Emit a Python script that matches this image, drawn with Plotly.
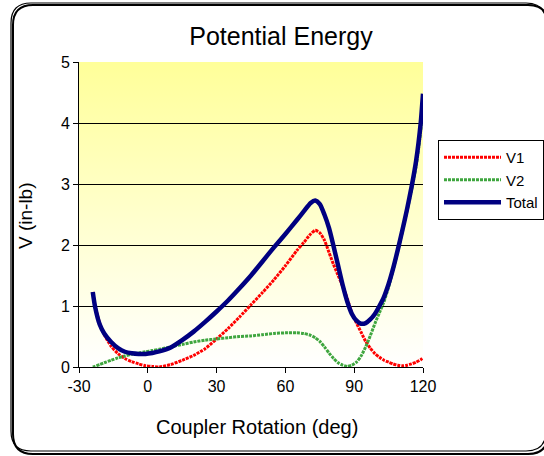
import base64
import plotly.graph_objects as go

# Coupler rotation angle (deg) and potential energy terms (in-lb)
rotation = [-24, -23, -21, -19, -16, -13, -10, -7, -4, -1, 2, 5, 10, 15, 20, 25, 30, 35,
            40, 45, 50, 55, 60, 65, 68, 71, 73, 75, 77, 79, 81, 83, 85, 87, 89, 91, 93,
            95, 97, 99, 101, 103, 105, 107, 109, 111, 113, 115, 117, 119, 120]
v1 = [1.23, 1.00, 0.72, 0.53, 0.34, 0.22, 0.14, 0.09, 0.05, 0.02, 0.01, 0.00, 0.04, 0.11,
      0.19, 0.30, 0.46, 0.63, 0.82, 1.02, 1.22, 1.43, 1.66, 1.91, 2.04, 2.18, 2.24, 2.20,
      2.08, 1.88, 1.68, 1.50, 1.32, 1.12, 0.88, 0.72, 0.57, 0.42, 0.31, 0.22, 0.16, 0.11,
      0.08, 0.05, 0.03, 0.02, 0.03, 0.05, 0.08, 0.12, 0.15]
v2 = [0.00, 0.01, 0.04, 0.07, 0.11, 0.15, 0.18, 0.21, 0.23, 0.25, 0.27, 0.29, 0.33, 0.37,
      0.41, 0.44, 0.46, 0.48, 0.50, 0.51, 0.53, 0.55, 0.56, 0.56, 0.55, 0.52, 0.48, 0.42,
      0.33, 0.23, 0.14, 0.07, 0.03, 0.01, 0.03, 0.08, 0.18, 0.33, 0.51, 0.71, 0.89, 1.07,
      1.31, 1.59, 1.90, 2.22, 2.55, 2.90, 3.30, 3.88, 4.33]
total = [1.23, 0.99, 0.70, 0.55, 0.41, 0.31, 0.25, 0.225, 0.215, 0.215, 0.23, 0.255, 0.32,
         0.44, 0.58, 0.74, 0.91, 1.09, 1.29, 1.50, 1.73, 1.96, 2.18, 2.41, 2.55, 2.69, 2.73,
         2.67, 2.50, 2.28, 1.98, 1.66, 1.34, 1.07, 0.87, 0.76, 0.71, 0.72, 0.78, 0.87, 1.00,
         1.15, 1.36, 1.62, 1.92, 2.24, 2.58, 2.95, 3.38, 4.00, 4.48]

x_ticks = [-30, 0, 30, 60, 90, 120]
x_tick_text = ["-30", "0", "30", "60", "90", "120"]
y_ticks = [0, 1, 2, 3, 4, 5]

W, H = 544, 456
L, R, T, B = 79, 121, 62, 89
PW, PH = W - L - R, H - T - B
FONT = "Arial, Liberation Sans, sans-serif"


def px(xp):
    return (xp - L) / PW


def py(yp):
    return (H - B - yp) / PH


def rounded_rect(x0, y0, x1, y1, r):
    pts = [
        f"M{px(x0 + r)},{py(y0)}", f"L{px(x1 - r)},{py(y0)}",
        f"Q{px(x1)},{py(y0)} {px(x1)},{py(y0 + r)}", f"L{px(x1)},{py(y1 - r)}",
        f"Q{px(x1)},{py(y1)} {px(x1 - r)},{py(y1)}", f"L{px(x0 + r)},{py(y1)}",
        f"Q{px(x0)},{py(y1)} {px(x0)},{py(y1 - r)}", f"L{px(x0)},{py(y0 + r)}",
        f"Q{px(x0)},{py(y0)} {px(x0 + r)},{py(y0)}", "Z",
    ]
    return " ".join(pts)


# Yellow-to-white vertical gradient for the plot area
svg = ('<svg xmlns="http://www.w3.org/2000/svg" width="10" height="100" preserveAspectRatio="none">'
       '<defs><linearGradient id="g" x1="0" y1="0" x2="0" y2="1">'
       '<stop offset="0" stop-color="#FFFF99"/><stop offset="1" stop-color="#FFFFFF"/>'
       '</linearGradient></defs><rect width="10" height="100" fill="url(#g)"/></svg>')
grad_src = "data:image/svg+xml;base64," + base64.b64encode(svg.encode()).decode()

fig = go.Figure()
fig.add_trace(go.Scatter(x=rotation, y=v1, name="V1", mode="lines",
                         line=dict(color="#FF0000", width=3, dash="3px,1px", shape="spline", smoothing=0.6)))
fig.add_trace(go.Scatter(x=rotation, y=v2, name="V2", mode="lines",
                         line=dict(color="#3FA63F", width=3, dash="3px,1px", shape="spline", smoothing=0.6)))
fig.add_trace(go.Scatter(x=rotation, y=total, name="Total", mode="lines",
                         line=dict(color="#000080", width=4.5, shape="spline", smoothing=0.6)))

shapes = [
    # chart frame with its shadow
    dict(type="path", xref="paper", yref="paper", path=rounded_rect(13, 5, 548, 454, 20),
         line=dict(color="#000000", width=2), layer="below"),
    dict(type="path", xref="paper", yref="paper", path=rounded_rect(11, 3, 546, 451, 20),
         line=dict(color="#000000", width=1.2), layer="below"),
    # legend shadow
    dict(type="rect", xref="paper", yref="paper", x0=px(441), x1=px(547), y0=py(220), y1=py(146),
         line=dict(width=0), fillcolor="#000000", layer="below"),
]

fig.update_layout(
    width=W, height=H,
    margin=dict(l=L, r=R, t=T, b=B, autoexpand=False),
    paper_bgcolor="#FFFFFF",
    plot_bgcolor="rgba(0,0,0,0)",
    font=dict(family=FONT, color="#000000"),
    title=dict(text="Potential Energy", x=281 / W, xanchor="center", y=1 - 36 / H,
               yanchor="middle", font=dict(size=25, family=FONT)),
    xaxis=dict(range=[-30, 120], tickvals=x_ticks, ticktext=x_tick_text, ticks="outside", ticklen=5,
               tickcolor="#000000", showline=True, linecolor="#000000", linewidth=1,
               showgrid=False, zeroline=False, tickfont=dict(size=16)),
    yaxis=dict(range=[0, 5], tickvals=y_ticks, ticks="outside", ticklen=5,
               tickcolor="#000000", showline=True, linecolor="#000000", linewidth=1,
               showgrid=True, gridcolor="#000000", gridwidth=1, zeroline=False,
               tickfont=dict(size=16)),
    legend=dict(x=px(438), y=py(140), xanchor="left", yanchor="top",
                bgcolor="#FFFFFF", bordercolor="#000000", borderwidth=1,
                font=dict(size=15), itemwidth=57, tracegroupgap=0),
    shapes=shapes,
    images=[dict(source=grad_src, xref="paper", yref="paper", x=0, y=1, sizex=1, sizey=1,
                 xanchor="left", yanchor="top", sizing="stretch", layer="below")],
    annotations=[
        dict(text="Coupler Rotation (deg)", xref="paper", yref="paper", x=px(257), y=py(427),
             xanchor="center", yanchor="middle", showarrow=False, font=dict(size=20)),
        dict(text="V (in-lb)", xref="paper", yref="paper", x=px(26), y=py(216), textangle=-90,
             xanchor="center", yanchor="middle", showarrow=False, font=dict(size=19)),
    ],
)

fig.write_html("out.html")
